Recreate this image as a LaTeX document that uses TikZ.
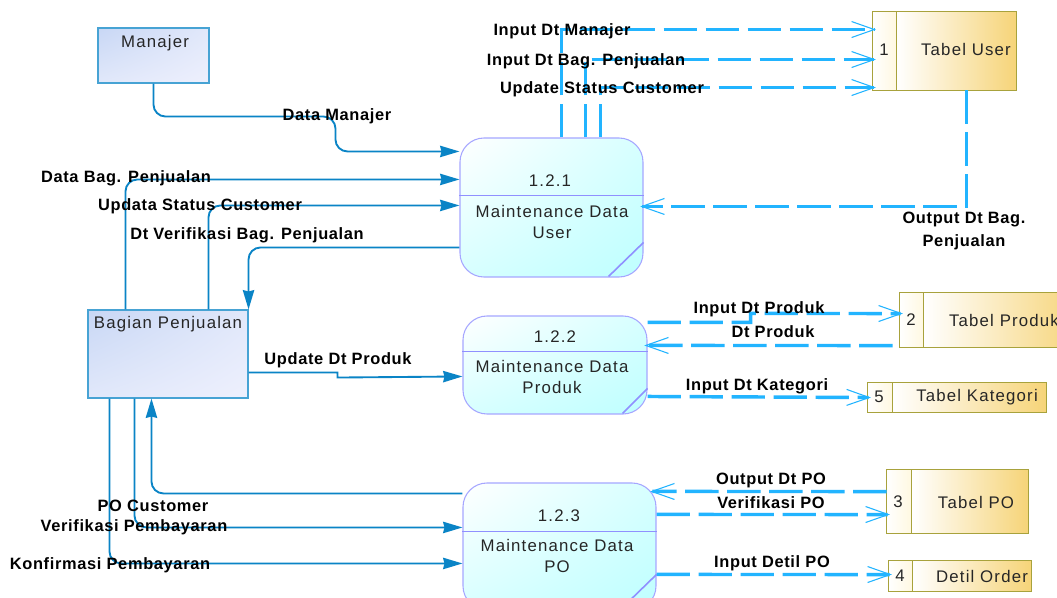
\documentclass[tikz,border=0pt]{standalone}
\usepackage{fontspec}
\setmainfont{Liberation Sans}
\newfontfamily\regf[LetterSpace=7]{Liberation Sans}
\newfontfamily\boldf[LetterSpace=4,BoldFont={Liberation Sans Bold}]{Liberation Sans}
\usetikzlibrary{arrows.meta,calc,shadings}
\def\pxu{0.75pt}
\definecolor{flowblue}{HTML}{0A84C6}
\definecolor{dashblue}{HTML}{22B4FF}
\definecolor{procedge}{HTML}{9090FF}
\definecolor{tableedge}{HTML}{A8A23C}
\definecolor{entA}{HTML}{C8D7F5}
\definecolor{entB}{HTML}{E1E8FA}
\definecolor{entC}{HTML}{EEF0FD}
\definecolor{procB}{HTML}{D7FFFF}
\definecolor{procC}{HTML}{BEFFFF}
\definecolor{tabY}{HTML}{F6D478}
\definecolor{tabC}{HTML}{FFF8E1}
\tikzset{
  x=0.75pt,y=-0.75pt,
  entitybox/.style={draw=flowblue!75,line width=0.8pt,rectangle,inner sep=0pt,upper left=entA,upper right=entB,lower left=entB,lower right=entC},
  procbox/.style={draw=procedge!80,line width=0.8pt,rectangle,rounded corners=18pt,inner sep=0pt,upper left=white,upper right=procB,lower left=procB,lower right=procC},
  tablebox/.style={draw=tableedge,line width=0.7pt,rectangle,inner sep=0pt,fill=white},
  plain/.style={font=\regf\fontsize{12.6}{15.5}\selectfont,text=black!85,inner sep=0pt,align=center},
  flowlabel/.style={font=\boldf\bfseries\fontsize{12.3}{17}\selectfont,text=black,inner sep=0pt,align=center},
  solidflow/.style={draw=flowblue,line width=1.4pt,rounded corners=9pt,-{Stealth[length=14.5pt,width=8.5pt,inset=1pt]}},
  dashflow/.style={draw=dashblue,line width=2.6pt,dash pattern=on 25pt off 6.5pt,shorten >=-2.5pt,-{Straight Barb[length=17pt,width=12pt,line width=0.8pt]}},
  procline/.style={draw=procedge,line width=1.2pt},
  cellline/.style={draw=tableedge,line width=1.3pt},
  cellshade/.style={left color=white,right color=tabC},
  bodyshade/.style={left color=white,right color=tabY},
}
% #1 store node, #2 width of its number cell
\newcommand{\storecells}[2]{%
  \shade[cellshade] (#1.north west) rectangle ($(#1.south west)+(#2,0)$);
  \shade[bodyshade] ($(#1.north west)+(#2,0)$) rectangle (#1.south east);
  \draw[draw=tableedge,line width=0.9pt] (#1.north west) rectangle (#1.south east);
  \draw[cellline] ($(#1.north west)+(#2,0)$) -- ($(#1.south west)+(#2,0)$);
}
\begin{document}
\begin{tikzpicture}
\clip (0,0) rectangle (1057,598);
\fill[white] (0,0) rectangle (1057,598);
% external entities
\node[entitybox,minimum width=111*\pxu,minimum height=55*\pxu] (mgr) at (153.5,55.5) {};
\node[entitybox,minimum width=160*\pxu,minimum height=88*\pxu] (bag) at (168,354) {};
\node[plain] (mgrt) at (155,43) {Manajer};
\node[plain] (bagt) at (168,324) {Bagian Penjualan};
% processes
\node[procbox,minimum width=183*\pxu,minimum height=139*\pxu] (p1) at (551.5,207.5) {};
\node[procbox,minimum width=184*\pxu,minimum height=98*\pxu] (p2) at (555,365) {};
\node[procbox,minimum width=193*\pxu,minimum height=127*\pxu] (p3) at (559.5,546.5) {};
\draw[procline] ($(p1.north west)+(0,58)$) -- ($(p1.north east)+(0,58)$);
\draw[procline] ($(p1.north east)+(0,105)$) -- ($(p1.north east)+(-35,139)$);
\draw[procline] ($(p2.north west)+(0,36)$) -- ($(p2.north east)+(0,36)$);
\draw[procline] ($(p2.north east)+(0,73)$) -- ($(p2.north east)+(-25,98)$);
\draw[procline] ($(p3.north west)+(0,49)$) -- ($(p3.north east)+(0,49)$);
\draw[procline] ($(p3.north east)+(0,92)$) -- ($(p3.north east)+(-36,127)$);
\node[plain] (p1n) at (550,181) {1.2.1};
\node[plain] (p1t) at (552,222) {Maintenance Data\\User};
\node[plain] (p2n) at (555,337) {1.2.2};
\node[plain] (p2t) at (552,377) {Maintenance Data\\Produk};
\node[plain] (p3n) at (559,516) {1.2.3};
\node[plain] (p3t) at (557,556) {Maintenance Data\\PO};
% data stores
\node[tablebox,minimum width=143*\pxu,minimum height=78*\pxu] (t1) at (944.5,51) {};
\node[tablebox,minimum width=180*\pxu,minimum height=54*\pxu] (t2) at (990,320) {};
\node[tablebox,minimum width=178*\pxu,minimum height=29*\pxu] (t5) at (957,397.5) {};
\node[tablebox,minimum width=141*\pxu,minimum height=63*\pxu] (t3) at (957.5,501.5) {};
\node[tablebox,minimum width=142*\pxu,minimum height=30*\pxu] (t4) at (960,576) {};
\storecells{t1}{24}
\storecells{t2}{24}
\storecells{t5}{25}
\storecells{t3}{25}
\storecells{t4}{24}
\node[plain] (t1n) at (884,50) {1};
\node[plain] (t1t) at (966,50) {Tabel User};
\node[plain] (t2n) at (911,320) {2};
\node[plain] (t2t) at (1004,320) {Tabel Produk};
\node[plain] (t5n) at (879,397) {5};
\node[plain] (t5t) at (977,397) {Tabel Kategori};
\node[plain] (t3n) at (898,502) {3};
\node[plain] (t3t) at (976,502) {Tabel PO};
\node[plain] (t4n) at (900,576) {4};
\node[plain] (t4t) at (982,576) {Detil Order};
% solid flows
\draw[solidflow] ($(mgr.south west)+(56,0)$) |- ($(mgr.south west)+(238,33)$) |- ($(p1.north west)+(0,14)$);
\draw[solidflow] ($(bag.north west)+(38,0)$) |- ($(p1.north west)+(0,42)$);
\draw[solidflow] ($(bag.north west)+(121,0)$) |- ($(p1.north west)+(0,68)$);
\draw[solidflow] ($(p1.north west)+(0,110)$) -| (bag.north east);
\draw[solidflow,rounded corners=0pt] ($(bag.south east)+(0,-26)$) -| ($(bag.south east)+(89,-21)$) -- ($(p2.north west)+(0,61)$);
\draw[solidflow] ($(p3.north west)+(0,11)$) -| ($(bag.south west)+(64,0)$);
\draw[solidflow] ($(bag.south west)+(47,0)$) |- ($(p3.north west)+(0,45)$);
\draw[solidflow] ($(bag.south west)+(22,0)$) |- ($(p3.north west)+(0,81)$);
% dashed flows
\draw[dashflow] ($(p1.north west)+(102,0)$) |- ($(t1.north west)+(0,18)$);
\draw[dashflow] ($(p1.north west)+(126,0)$) |- ($(t1.north west)+(0,48)$);
\draw[dashflow] ($(p1.north west)+(141,0)$) |- ($(t1.north west)+(0,76)$);
\draw[dashflow] ($(t1.south west)+(94,0)$) |- ($(p1.north east)+(0,69)$);
\draw[dashflow] ($(p2.north east)+(0,7)$) -| ($(p2.north east)+(103,-2)$) -- ($(t2.north west)+(0,21)$);
\draw[dashflow] ($(t2.north west)+(-7,53)$) -- ($(p2.north east)+(0,30)$);
\draw[dashflow] ($(p2.north east)+(0,81)$) -- (t5.west);
\draw[dashflow] ($(t3.north west)+(0,22)$) -- ($(p3.north east)+(-3,9)$);
\draw[dashflow] ($(p3.north east)+(0,32)$) -- ($(t3.north west)+(0,45)$);
\draw[dashflow] ($(p3.north east)+(0,92)$) -- ($(t4.north west)+(0,14)$);
% flow labels
\node[flowlabel] (l1) at (337,116) {Data Manajer};
\node[flowlabel] (l2) at (126,178) {Data Bag. Penjualan};
\node[flowlabel] (l3) at (200,206) {Updata Status Customer};
\node[flowlabel] (l4) at (247,235) {Dt Verifikasi Bag. Penjualan};
\node[flowlabel] (l5) at (338,360) {Update Dt Produk};
\node[flowlabel] (l6) at (153,506) {PO Customer};
\node[flowlabel] (l7) at (134,527) {Verifikasi Pembayaran};
\node[flowlabel] (l8) at (110,565) {Konfirmasi Pembayaran};
\node[flowlabel] (l9) at (562,31) {Input Dt Manajer};
\node[flowlabel] (l10) at (586,61) {Input Dt Bag. Penjualan};
\node[flowlabel] (l11) at (602,89) {Update Status Customer};
\node[flowlabel] (l12) at (964,231) {Output Dt Bag.\\Penjualan};
\node[flowlabel] (l13) at (759,309) {Input Dt Produk};
\node[flowlabel] (l14) at (773,332) {Dt Produk};
\node[flowlabel] (l15) at (757,386) {Input Dt Kategori};
\node[flowlabel] (l16) at (771,480) {Output Dt PO};
\node[flowlabel] (l17) at (771,503) {Verifikasi PO};
\node[flowlabel] (l18) at (772,563) {Input Detil PO};
\end{tikzpicture}
\end{document}
